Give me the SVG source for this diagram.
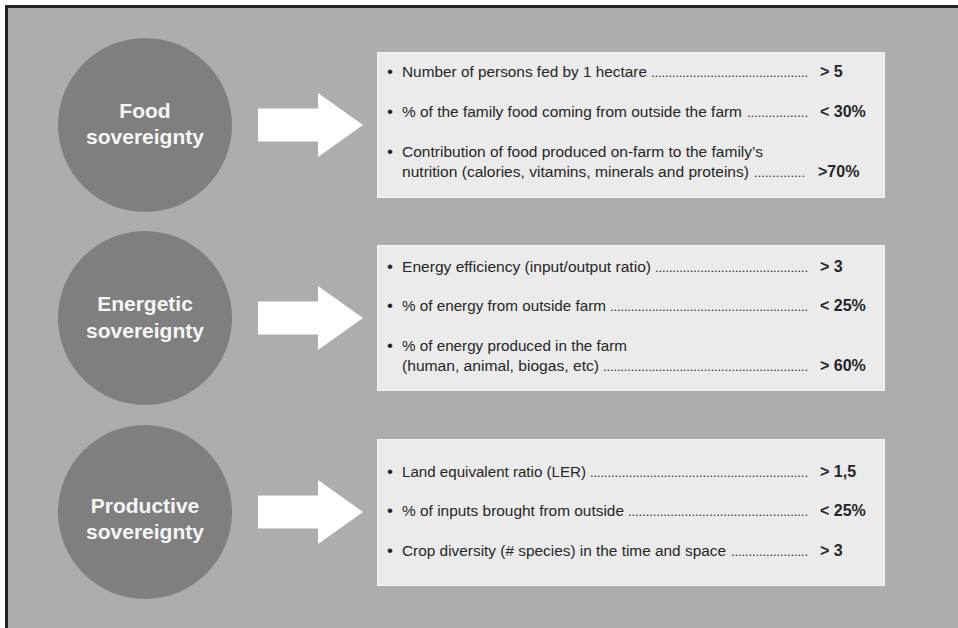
<svg xmlns="http://www.w3.org/2000/svg" width="958" height="628" viewBox="0 0 958 628">
<style>
.bg{fill:#adadad}
.circ{fill:#7f7f7f}
.box{fill:#ebebeb;stroke:#f4f4f4;stroke-width:1}
.arrow{fill:#ffffff}
.ct{font-family:"Liberation Sans",Arial,sans-serif;font-weight:bold;font-size:21px;fill:#f6f6f6;text-anchor:middle}
.t{font-family:"Liberation Sans",Arial,sans-serif;font-size:15.2px;fill:#262626}
.d{font-family:"Liberation Sans",Arial,sans-serif;font-size:13px;fill:#262626}
.v{font-family:"Liberation Sans",Arial,sans-serif;font-size:16px;font-weight:bold;fill:#262626}
.b{font-family:"Liberation Sans",Arial,sans-serif;font-size:17px;fill:#262626}
</style>
<rect x="0" y="0" width="958" height="628" fill="#ffffff"/>
<rect class="bg" x="6" y="6" width="952" height="622"/>
<path d="M6.5,628 V6.5 H958" fill="none" stroke="#232323" stroke-width="3"/>

<g id="connectors">
  <polygon class="arrow" points="258,108.5 318,108.5 318,93 363,125 318,157 318,141.5 258,141.5"/>
  <polygon class="arrow" points="258,301.5 318,301.5 318,286 363,318 318,350 318,334.5 258,334.5"/>
  <polygon class="arrow" points="258,495.5 318,495.5 318,480 363,512 318,544 318,528.5 258,528.5"/>
</g>

<g id="food">
  <circle class="circ" cx="145" cy="125" r="87"/>
  <text class="ct" x="145" y="118">Food</text>
  <text class="ct" x="145" y="144">sovereignty</text>
</g>
<g id="energetic">
  <circle class="circ" cx="145" cy="318" r="87"/>
  <text class="ct" x="145" y="311">Energetic</text>
  <text class="ct" x="145" y="338">sovereignty</text>
</g>
<g id="productive">
  <circle class="circ" cx="145" cy="512" r="87"/>
  <text class="ct" x="145" y="513">Productive</text>
  <text class="ct" x="145" y="539">sovereignty</text>
</g>

<g id="food-indicators">
  <rect class="box" x="377.5" y="52.5" width="507" height="145"/>
  <text class="b" x="387" y="77">•</text>
  <text class="t" x="402" y="77" textLength="245" lengthAdjust="spacingAndGlyphs">Number of persons fed by 1 hectare</text>
  <text class="d" x="651" y="77" textLength="157" lengthAdjust="spacing">.............................................</text>
  <text class="v" x="820" y="77">&gt; 5</text>
  <text class="b" x="387" y="117">•</text>
  <text class="t" x="402" y="117" textLength="340" lengthAdjust="spacingAndGlyphs">% of the family food coming from outside the farm</text>
  <text class="d" x="747" y="117" textLength="61" lengthAdjust="spacing">.................</text>
  <text class="v" x="820" y="117">&lt; 30%</text>
  <text class="b" x="387" y="157">•</text>
  <text class="t" x="402" y="157" textLength="361" lengthAdjust="spacingAndGlyphs">Contribution of food produced on-farm to the family’s</text>
  <text class="t" x="402" y="177" textLength="347" lengthAdjust="spacingAndGlyphs">nutrition (calories, vitamins, minerals and proteins)</text>
  <text class="d" x="754" y="177" textLength="51" lengthAdjust="spacing">..............</text>
  <text class="v" x="818" y="177">&gt;70%</text>
</g>

<g id="energetic-indicators">
  <rect class="box" x="377.5" y="245.5" width="507" height="145"/>
  <text class="b" x="387" y="272">•</text>
  <text class="t" x="402" y="272" textLength="249" lengthAdjust="spacingAndGlyphs">Energy efficiency (input/output ratio)</text>
  <text class="d" x="655" y="272" textLength="153" lengthAdjust="spacing">............................................</text>
  <text class="v" x="820" y="272">&gt; 3</text>
  <text class="b" x="387" y="311">•</text>
  <text class="t" x="402" y="311" textLength="204" lengthAdjust="spacingAndGlyphs">% of energy from outside farm</text>
  <text class="d" x="610" y="311" textLength="198" lengthAdjust="spacing">.........................................................</text>
  <text class="v" x="820" y="311">&lt; 25%</text>
  <text class="b" x="387" y="351">•</text>
  <text class="t" x="402" y="351" textLength="225" lengthAdjust="spacingAndGlyphs">% of energy produced in the farm</text>
  <text class="t" x="402" y="371" textLength="197" lengthAdjust="spacingAndGlyphs">(human, animal, biogas, etc)</text>
  <text class="d" x="603" y="371" textLength="205" lengthAdjust="spacing">...........................................................</text>
  <text class="v" x="820" y="371">&gt; 60%</text>
</g>

<g id="productive-indicators">
  <rect class="box" x="377.5" y="439.5" width="507" height="146"/>
  <text class="b" x="387" y="477">•</text>
  <text class="t" x="402" y="477" textLength="184" lengthAdjust="spacingAndGlyphs">Land equivalent ratio (LER)</text>
  <text class="d" x="590" y="477" textLength="218" lengthAdjust="spacing">..............................................................</text>
  <text class="v" x="820" y="477">&gt; 1,5</text>
  <text class="b" x="387" y="516">•</text>
  <text class="t" x="402" y="516" textLength="222" lengthAdjust="spacingAndGlyphs">% of inputs brought from outside</text>
  <text class="d" x="628" y="516" textLength="180" lengthAdjust="spacing">...................................................</text>
  <text class="v" x="820" y="516">&lt; 25%</text>
  <text class="b" x="387" y="556">•</text>
  <text class="t" x="402" y="556" textLength="324" lengthAdjust="spacingAndGlyphs">Crop diversity (# species) in the time and space</text>
  <text class="d" x="731" y="556" textLength="77" lengthAdjust="spacing">......................</text>
  <text class="v" x="820" y="556">&gt; 3</text>
</g>
</svg>
